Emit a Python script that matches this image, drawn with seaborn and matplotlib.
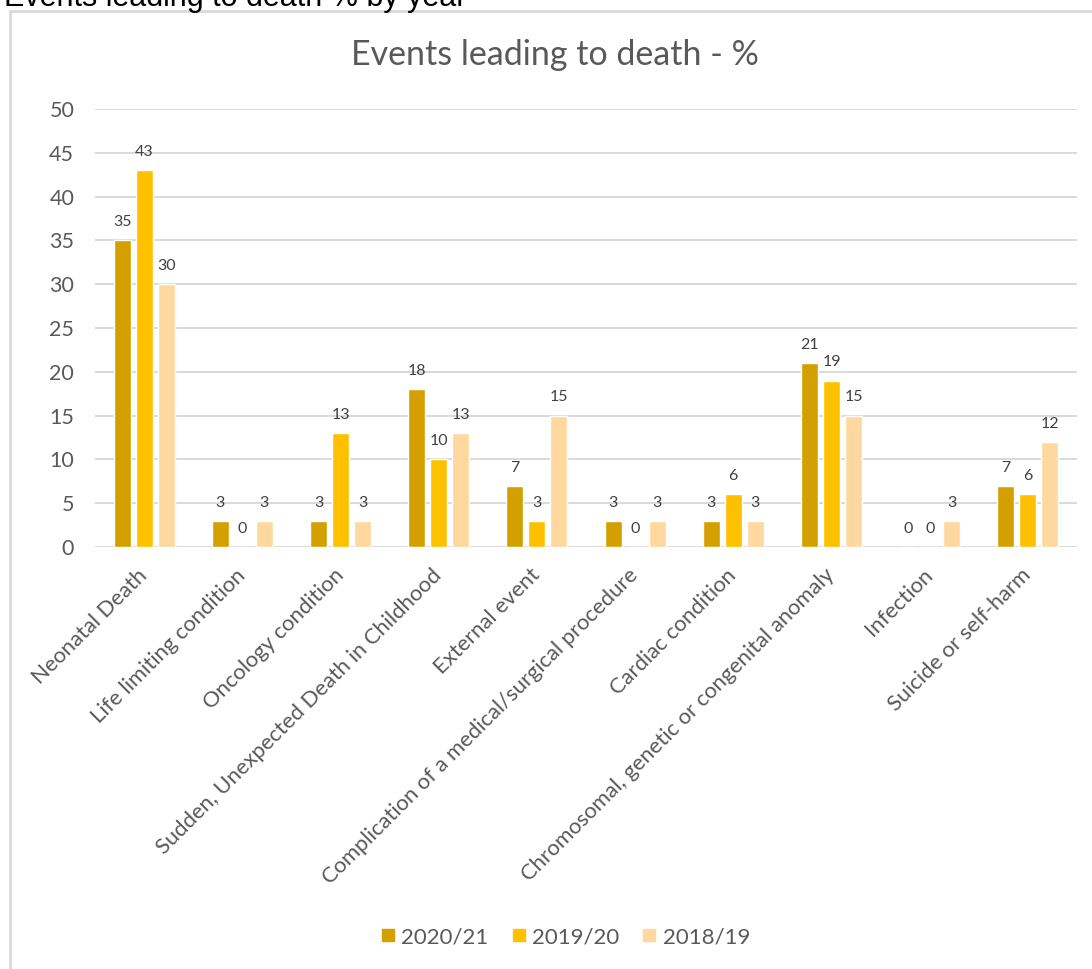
import pandas as pd
import matplotlib.pyplot as plt
import seaborn as sns
from matplotlib.patches import Rectangle
from matplotlib.lines import Line2D

categories = [
    'Neonatal Death',
    'Life limiting condition',
    'Oncology condition',
    'Sudden, Unexpected Death in Childhood',
    'External event',
    'Complication of a medical/surgical procedure',
    'Cardiac condition',
    'Chromosomal, genetic or congenital anomaly',
    'Infection',
    'Suicide or self-harm',
]
years = ['2020/21', '2019/20', '2018/19']
vals_2021 = [35, 3, 3, 18, 7, 3, 3, 21, 0, 7]
vals_1920 = [43, 0, 13, 10, 3, 0, 6, 19, 0, 6]
vals_1819 = [30, 3, 3, 13, 15, 3, 3, 15, 3, 12]
colors = ['#D4A000', '#FFC000', '#FFD8A0']

rows = []
for yr, vals in zip(years, [vals_2021, vals_1920, vals_1819]):
    for c, v in zip(categories, vals):
        rows.append({'category': c, 'year': yr, 'value': v})
df = pd.DataFrame(rows)

sns.set_theme(style="white")
plt.rcParams['font.family'] = ['Lato', 'DejaVu Sans']
grey = '#595959'

fig = plt.figure(figsize=(10.92, 9.69), dpi=100)
ax = fig.add_axes([95 / 1092, 1 - 547 / 969, (1077 - 95) / 1092, (547 - 109) / 969])

sns.barplot(data=df, x='category', y='value', hue='year', hue_order=years,
            palette=colors, width=0.672, gap=0.23, ax=ax, legend=False,
            errorbar=None, saturation=1)

for cont in ax.containers:
    ax.bar_label(cont, padding=8, fontsize=11.5, color='#404040')

ax.set_ylim(0, 50)
ax.set_xlim(-0.5, len(categories) - 0.5)
ax.set_yticks(range(0, 51, 5))
ax.yaxis.grid(True, color='#D9D9D9', linewidth=1.4)
ax.set_axisbelow(True)
for s in ax.spines.values():
    s.set_visible(False)
ax.set_xlabel('')
ax.set_ylabel('')
ax.tick_params(axis='y', labelsize=15.5, colors=grey, length=0, pad=15)
ax.tick_params(axis='x', labelsize=15.8, colors=grey, length=0, pad=18)
ax.set_xticks(range(len(categories)))
ax.set_xticklabels(categories, rotation=45, ha='right', va='center', rotation_mode='anchor')

fig.text(0.508, 1 - 55 / 969, 'Events leading to death - %', ha='center', va='center',
         fontsize=24.5, color=grey)

handles = [Line2D([], [], marker='s', linestyle='', markersize=9, color=c) for c in colors]
fig.legend(handles, years, loc='center', bbox_to_anchor=(0.5165, 1 - 937 / 969),
           ncol=3, frameon=False, fontsize=16, labelcolor=grey, handletextpad=0.15,
           columnspacing=0.9, handlelength=0.9)

fig.patches.append(Rectangle((10 / 1092, -0.01), 1.1, 1 - 11 / 969 + 0.01,
                             transform=fig.transFigure, fill=False,
                             edgecolor='#D9D9D9', linewidth=2))
fig.text(4 / 1092, 1 - 6 / 969, 'Events leading to death % by year', ha='left',
         va='baseline', fontsize=22, color='black', family=['Liberation Sans'])

fig.savefig('out.png', dpi=100)
